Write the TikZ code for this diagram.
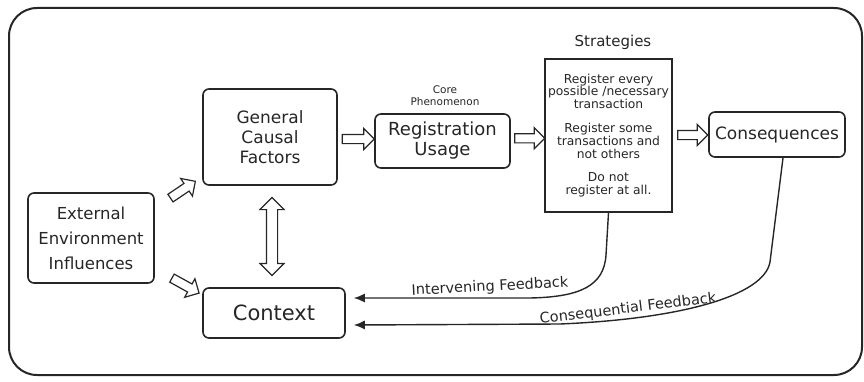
\documentclass[tikz,border=0pt]{standalone}
\usepackage{fontspec}
\setmainfont{DejaVu Sans}
\usepackage{tikz}
\usetikzlibrary{shapes.arrows}
\usetikzlibrary{arrows.meta, calc}

\begin{document}
\begin{tikzpicture}[x=1pt, y=1pt, color=black!85,
 box/.style = {draw, line width=1.6pt, rounded corners=6pt, align=center, inner sep=0pt},
 blockarrow/.style = {single arrow, draw, line width=1.2pt, fill=white, minimum height=30pt, single arrow head extend=6pt, inner sep=4pt},
 twoarrow/.style = {double arrow, draw, line width=1.2pt, fill=white, minimum height=78pt, double arrow head extend=6.5pt, inner sep=5pt},
 fb/.style = {line width=1.4pt, -{Latex[length=11pt, width=9pt]}},
 fblabel/.style = {font=\fontsize{14.5}{16}\selectfont, inner sep=0pt}]
\useasboundingbox (0,0) rectangle (864,381);
\draw[line width=2pt, rounded corners=28pt] (9,6) rectangle (862,373);

\node[box, minimum width=126pt, minimum height=90pt, font=\fontsize{16.5}{25}\selectfont] (eei) at (91,143) {External\\Environment\\Influences};
\node[box, minimum width=134pt, minimum height=96pt, font=\fontsize{17}{20}\selectfont] (gcf) at (270,244) {General\\Causal\\Factors};
\node[box, minimum width=142pt, minimum height=50pt, font=\fontsize{21}{24}\selectfont] (ctx) at (274,68) {Context};
\node[box, minimum width=135pt, minimum height=54pt, font=\fontsize{18}{20}\selectfont] (ru) at (442.5,240) {Registration\\Usage};
\node[box, rounded corners=0pt, minimum width=127pt, minimum height=153pt, font=\fontsize{12.3}{12.8}\selectfont] (str) at (608.5,245.5) {Register every\\possible /necessary\\transaction\\[11pt]Register some\\transactions and\\not others\\[11pt]Do not\\register at all.};
\node[box, minimum width=136pt, minimum height=45pt, font=\fontsize{17}{20}\selectfont] (cons) at (777,246.5) {Consequences};

\node[align=center, font=\fontsize{10.5}{12}\selectfont] (core) at (445,285) {Core\\Phenomenon};
\node[font=\fontsize{15}{17}\selectfont] (strlabel) at (613,339) {Strategies};

\node[blockarrow, minimum height=32pt] (a1) at ($(gcf.east)!0.5!(ru.west)$) {};
\node[blockarrow] (a2) at ($(ru.east)!0.5!(str.west)$) {};
\node[blockarrow] (a3) at ($(str.east)!0.5!(cons.west)$) {};
\node[blockarrow, rotate=34] (a4) at (181,190) {};
\node[blockarrow, minimum height=31pt, rotate=-29] (a5) at (183.5,96.5) {};
\node[twoarrow, rotate=90] (a6) at ($(gcf.south)!0.5!(ctx.north)$) {};

\coordinate (in1) at ($(ctx.east)+(8,15)$);
\coordinate (in2) at ($(ctx.east)+(8,-12)$);
\draw[fb] (str.south) -- (606,126) .. controls (604,95) and (580,84) .. (530,83) -- (in1);
\draw[fb] ([xshift=6pt]cons.south) -- (770,119) .. controls (764,85) and (680,62) .. (560,57) -- (in2);

\node[fblabel, rotate=3] (lab1) at (490,94) {Intervening Feedback};
\node[fblabel, rotate=7] (lab2) at (628,72) {Consequential Feedback};

\end{tikzpicture}
\end{document}
